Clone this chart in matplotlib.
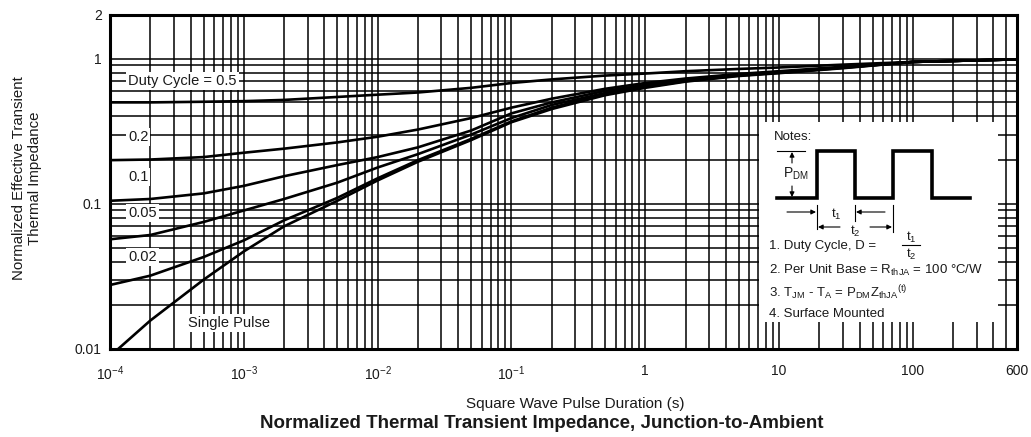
import matplotlib
matplotlib.use('Agg')
import matplotlib.pyplot as plt
from matplotlib import font_manager
from matplotlib.patches import Rectangle
from matplotlib.ticker import FixedLocator, NullFormatter
import numpy as np

# ---------------- data ----------------
t = [1e-4, 2e-4, 5e-4, 1e-3, 2e-3, 5e-3, 1e-2, 2e-2, 5e-2, 0.1, 0.2, 0.5, 1, 2, 5, 10, 30, 100, 600]
z_d050 = [0.50, 0.50, 0.505, 0.51, 0.52, 0.545, 0.565, 0.585, 0.63, 0.68, 0.72, 0.765, 0.79, 0.82, 0.85, 0.87, 0.91, 0.95, 0.99]
z_d020 = [0.20, 0.202, 0.21, 0.225, 0.24, 0.265, 0.29, 0.325, 0.39, 0.46, 0.53, 0.62, 0.68, 0.73, 0.785, 0.82, 0.88, 0.95, 0.99]
z_d010 = [0.105, 0.108, 0.118, 0.133, 0.155, 0.185, 0.21, 0.245, 0.32, 0.42, 0.50, 0.60, 0.66, 0.72, 0.775, 0.81, 0.87, 0.95, 0.99]
z_d005 = [0.057, 0.061, 0.075, 0.09, 0.108, 0.14, 0.178, 0.22, 0.30, 0.39, 0.48, 0.58, 0.65, 0.71, 0.77, 0.80, 0.87, 0.95, 0.99]
z_d002 = [0.0276, 0.032, 0.043, 0.056, 0.077, 0.11, 0.15, 0.20, 0.28, 0.37, 0.46, 0.57, 0.64, 0.70, 0.765, 0.80, 0.865, 0.95, 0.99]
t_single = [1.15e-4, 2e-4, 5e-4, 1e-3, 2e-3, 5e-3, 1e-2, 2e-2, 5e-2, 0.1, 0.2, 0.5, 1, 2, 5, 10, 30, 100, 600]
z_single = [0.010, 0.0157, 0.030, 0.047, 0.070, 0.105, 0.145, 0.195, 0.275, 0.365, 0.45, 0.56, 0.63, 0.695, 0.76, 0.795, 0.86, 0.95, 0.99]

curve_labels = ["Duty Cycle = 0.5", "0.2", "0.1", "0.05", "0.02", "Single Pulse"]
x_tick_values = [1e-4, 1e-3, 1e-2, 1e-1, 1, 10, 100, 600]
x_tick_labels = [r"$10^{-4}$", r"$10^{-3}$", r"$10^{-2}$", r"$10^{-1}$", "1", "10", "100", "600"]
y_tick_values = [0.01, 0.1, 1, 2]
y_tick_labels = ["0.01", "0.1", "1", "2"]

# ---------------- style ----------------
names = {f.name for f in font_manager.fontManager.ttflist}
fam = 'Liberation Sans' if 'Liberation Sans' in names else 'DejaVu Sans'
plt.rcParams['font.family'] = [fam, 'DejaVu Sans']
plt.rcParams['mathtext.default'] = 'regular'
TXT = '#1a1a1a'

W, H = 1031, 437
fig = plt.figure(figsize=(W / 100, H / 100), dpi=100)
AX_L, AX_R, AX_T, AX_B = 110, 1017, 15, 349
ax = fig.add_axes([AX_L / W, 1 - AX_B / H, (AX_R - AX_L) / W, (AX_B - AX_T) / H])

def P(px, py):
    """pixel position in the figure -> axes fraction"""
    return ((px - AX_L) / (AX_R - AX_L), (AX_B - py) / (AX_B - AX_T))

ax.set_xscale('log')
ax.set_yscale('log')
ax.set_xlim(1e-4, 600)
ax.set_ylim(0.01, 2)

# grid lines: every 1..9 x decade
xgrid = [m * 10.0 ** k for k in range(-4, 3) for m in range(1, 10) if 1e-4 <= m * 10.0 ** k <= 600]
ygrid = [m * 10.0 ** k for k in range(-2, 1) for m in range(1, 10) if 0.01 <= m * 10.0 ** k <= 2] + [2]
ax.xaxis.set_minor_locator(FixedLocator(xgrid))
ax.xaxis.set_minor_formatter(NullFormatter())
ax.yaxis.set_minor_locator(FixedLocator(ygrid))
ax.yaxis.set_minor_formatter(NullFormatter())

ax.set_xticks(x_tick_values)
ax.set_xticklabels(x_tick_labels)
ax.set_yticks(y_tick_values)
ax.set_yticklabels(y_tick_labels)
ax.tick_params(which='both', length=0)
ax.tick_params(axis='x', pad=11, labelsize=10, labelcolor=TXT)
ax.tick_params(axis='y', pad=6, labelsize=10, labelcolor=TXT)

ax.set_axisbelow(True)
ax.grid(which='both', axis='both', color='black', lw=1.1)
for s in ax.spines.values():
    s.set_linewidth(2.2)

# curves
for z in [z_d050, z_d020, z_d010, z_d005, z_d002]:
    ax.plot(t, z, color='black', lw=1.9, zorder=4, solid_capstyle='round', solid_joinstyle='round')
ax.plot(t_single, z_single, color='black', lw=1.9, zorder=4, solid_joinstyle='round')

# curve labels with white boxes hiding the grid
lab_px = [(128, 81), (128, 137), (128, 177), (128, 213), (128, 257), (188, 323)]
for txt, (px, py) in zip(curve_labels, lab_px):
    ax.text(*P(px, py), txt, transform=ax.transAxes, ha='left', va='center',
            fontsize=10.5, color=TXT, zorder=3,
            bbox=dict(facecolor='white', edgecolor='none', pad=1.5))

# notes box
x0, y0 = P(759, 322)
x1, y1 = P(998, 122)
ax.add_patch(Rectangle((x0, y0), x1 - x0, y1 - y0, transform=ax.transAxes,
                       facecolor='white', edgecolor='none', zorder=3))

NFS = 9.5

def T(px, py, s, **kw):
    kw.setdefault('fontsize', NFS)
    ax.text(*P(px, py), s, transform=ax.transAxes, color=TXT, zorder=5, **kw)

def L(pts, lw=0.8):
    xs, ys = zip(*[P(a, b) for a, b in pts])
    ax.plot(xs, ys, transform=ax.transAxes, color='black', lw=lw, zorder=5,
            solid_joinstyle='miter', clip_on=False)

def A(start, end):
    ax.annotate('', xy=P(*end), xytext=P(*start), xycoords='axes fraction',
                textcoords='axes fraction', zorder=5,
                arrowprops=dict(arrowstyle='-|>', color='black', lw=0.8,
                                mutation_scale=7, shrinkA=0, shrinkB=0))

T(774, 137, "Notes:", ha='left', va='center')
# pulse waveform
L([(777, 198), (817, 198), (817, 151), (855, 151), (855, 198), (893, 198),
   (893, 151), (932, 151), (932, 198), (970, 198)], lw=2.6)
# P_DM dimension
L([(777, 151), (805, 151)])
A((792, 163), (792, 152))
A((792, 186), (792, 197))
T(796, 174, r"P$_{DM}$", ha='center', va='center', fontsize=10)
# t1 / t2 dimensions
L([(817, 205), (817, 229)])
L([(855, 205), (855, 221)])
L([(893, 205), (893, 232)])
A((787, 212), (816, 212))
A((885, 212), (856, 212))
T(836, 214, r"t$_1$", ha='center', va='center')
A((840, 227), (818, 227))
A((870, 227), (892, 227))
T(855, 231, r"t$_2$", ha='center', va='center')
# notes text
T(769, 246, "1. Duty Cycle, D =", ha='left', va='center')
T(911, 237, r"t$_1$", ha='center', va='center')
L([(902, 245), (920, 245)])
T(911, 254, r"t$_2$", ha='center', va='center')
T(769, 270, r"2. Per Unit Base = R$_{thJA}$ = 100 °C/W", ha='left', va='center')
T(769, 293, r"3. T$_{JM}$ - T$_A$ = P$_{DM}$Z$_{thJA}$$^{(t)}$", ha='left', va='center')
T(769, 314, "4. Surface Mounted", ha='left', va='center')

# axis titles
fig.text(575 / W, 1 - 404 / H, "Square Wave Pulse Duration (s)", ha='center', va='center',
         fontsize=11, color=TXT)
fig.text(542 / W, 1 - 423 / H, "Normalized Thermal Transient Impedance, Junction-to-Ambient",
         ha='center', va='center', fontsize=13.5, fontweight='bold', color=TXT)
fig.text(27 / W, 1 - 178 / H, "Normalized Effective Transient\nThermal Impedance",
         ha='center', va='center', rotation=90, fontsize=10.8, color=TXT, linespacing=1.15)

fig.savefig('out.png', dpi=100)
